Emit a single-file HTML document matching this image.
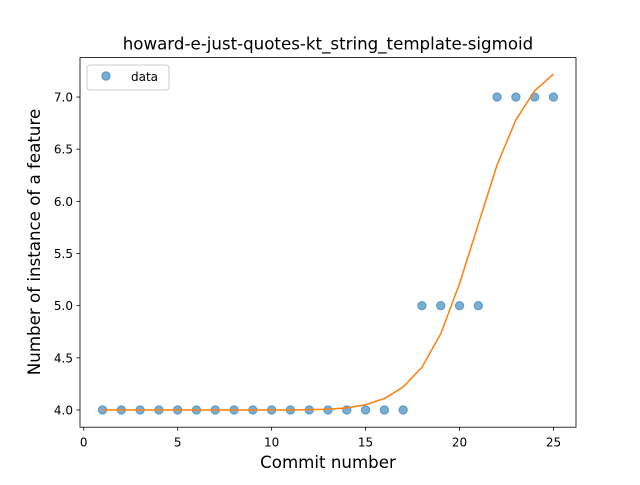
<!DOCTYPE html>
<html><head><meta charset="utf-8"><style>
body{margin:0;background:#fff}
svg text{font-family:"DejaVu Sans","Liberation Sans",sans-serif;fill:#000}
</style></head><body>
<svg id="chart" width="640" height="480" xmlns="http://www.w3.org/2000/svg">
<rect width="640" height="480" fill="#fff"/>
<text x="328" y="49.5" font-size="16.67" text-anchor="middle">howard-e-just-quotes-kt_string_template-sigmoid</text>
<g id="plot"></g>
<rect x="80" y="57.6" width="496" height="369.6" fill="none" stroke="#000" stroke-width="0.8"/>
<text x="328" y="468" font-size="16.67" text-anchor="middle">Commit number</text>
<text transform="translate(40,242) rotate(-90)" font-size="16.67" text-anchor="middle">Number of instance of a feature</text>
<g>
<rect x="87" y="65" width="82" height="25" rx="3" fill="#fff" fill-opacity="0.8" stroke="#ccc"/>
<circle cx="106" cy="76" r="4.2" fill="#1f77b4" fill-opacity="0.6" stroke="#1f77b4" stroke-opacity="0.6"/>
<text x="131" y="81" font-size="12">data</text>
</g>
</svg>
<script>
const commits=[1,2,3,4,5,6,7,8,9,10,11,12,13,14,15,16,17,18,19,20,21,22,23,24,25];
const counts=[4,4,4,4,4,4,4,4,4,4,4,4,4,4,4,4,4,5,5,5,5,7,7,7,7];
const fitValues=[4,4,4,4,4,4,4,4,4,4,4,4.003,4.007,4.02,4.05,4.11,4.22,4.41,4.73,5.21,5.78,6.35,6.78,7.06,7.22];
const xTicks=[0,5,10,15,20,25];
const yTicks=[4.0,4.5,5.0,5.5,6.0,6.5,7.0];
const L=80,R=576,T=57.6,B=427.2,X0=-0.2,X1=26.2,Y0=3.835,Y1=7.378;
const sx=v=>L+(v-X0)/(X1-X0)*(R-L);
const sy=v=>B-(v-Y0)/(Y1-Y0)*(B-T);
const NS="http://www.w3.org/2000/svg",g=document.getElementById('plot');
function mk(t,a){const e=document.createElementNS(NS,t);for(const k in a)e.setAttribute(k,a[k]);g.appendChild(e);return e;}
xTicks.forEach(v=>{
 const l=mk('line',{x1:sx(v),x2:sx(v),y1:B,y2:B+3.5,stroke:'#000','stroke-width':0.8});
 
 
 const t=mk('text',{x:sx(v),y:B+19.5,'font-size':12,'text-anchor':'middle'});t.textContent=v;
 
 
});
yTicks.forEach(v=>{
 const l=mk('line',{x1:L-3.5,x2:L,y1:sy(v),y2:sy(v),stroke:'#000','stroke-width':0.8});
 
 
 const t=mk('text',{x:L-7,y:sy(v)+4.5,'font-size':12,'text-anchor':'end'});t.textContent=v.toFixed(1);
 
 
});
commits.forEach((c,i)=>{
 const p=mk('circle',{cx:sx(c),cy:sy(counts[i]),r:4.2,fill:'#1f77b4','fill-opacity':0.6,stroke:'#1f77b4','stroke-opacity':0.6});
 
 
});
const line=mk('polyline',{points:commits.map((c,i)=>sx(c)+','+sy(fitValues[i])).join(' '),fill:'none',stroke:'#ff7f0e','stroke-width':1.5});


</script>
</body></html>
